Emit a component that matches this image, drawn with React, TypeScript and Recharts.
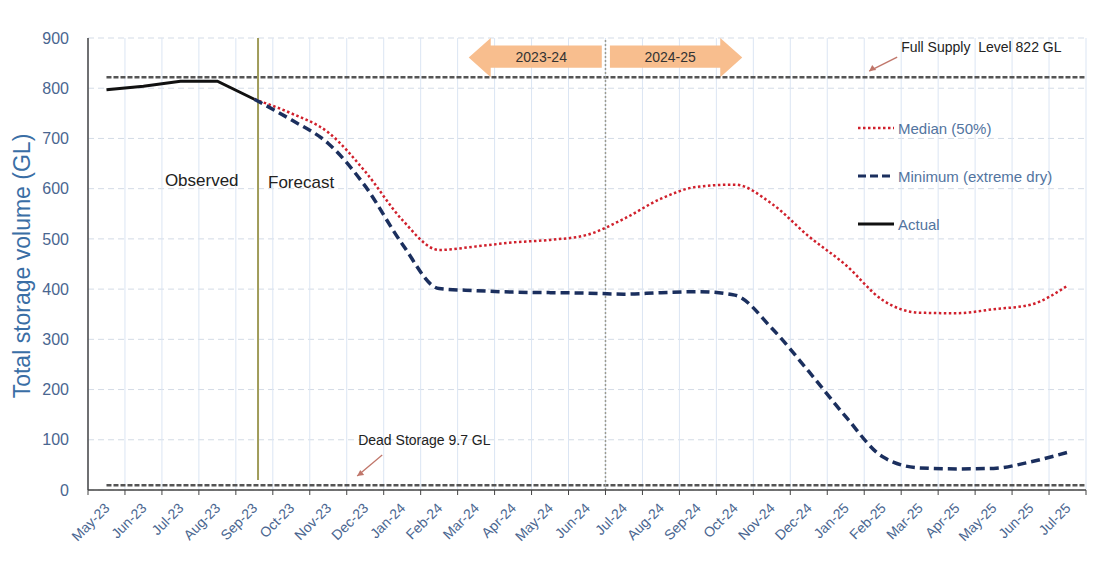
import {
  LineChart,
  Line,
  XAxis,
  YAxis,
  CartesianGrid,
  ReferenceLine,
  ReferenceArea,
  ReferenceDot,
  Legend,
} from "recharts";

const MONTHS = [
  "May-23", "Jun-23", "Jul-23", "Aug-23", "Sep-23", "Oct-23", "Nov-23",
  "Dec-23", "Jan-24", "Feb-24", "Mar-24", "Apr-24", "May-24", "Jun-24",
  "Jul-24", "Aug-24", "Sep-24", "Oct-24", "Nov-24", "Dec-24", "Jan-25",
  "Feb-25", "Mar-25", "Apr-25", "May-25", "Jun-25", "Jul-25",
];

const ACTUAL = [797, 804, 814, 814, 778];

const MEDIAN = [
  null, null, null, null, 778, 750, 712, 634, 538, 478, 485, 493, 498, 508,
  540, 580, 604, 608, 570, 505, 448, 378, 353, 352, 360, 369, 407,
];

const MINIMUM = [
  null, null, null, null, 778, 737, 690, 605, 490, 401, 397, 394, 393, 392,
  390, 393, 395, 388, 322, 236, 146, 66, 44, 42, 43, 56, 75,
];

const Y_TICKS = [0, 100, 200, 300, 400, 500, 600, 700, 800, 900];
const FULL_SUPPLY = 822;
const DEAD_STORAGE = 9.7;

const W = 1088;
const H = 554;
const MARGIN = { top: 30, right: 10, bottom: 0, left: 0 };
const Y_AXIS_W = 80;
const X_AXIS_H = 72;
const PLOT_W = W - MARGIN.left - MARGIN.right - Y_AXIS_W;
const BAND = PLOT_W / MONTHS.length;

const FONT = "'Liberation Sans', Arial, sans-serif";
const AXIS_BLUE = "#4a6690";
const RED = "#d0202c";
const NAVY = "#1b2f5e";

const data = MONTHS.map((m, i) => ({
  x: i + 0.5,
  month: m,
  actual: i < ACTUAL.length ? ACTUAL[i] : null,
  median: MEDIAN[i],
  minimum: MINIMUM[i],
}));

const X_TICKS = Array.from({ length: MONTHS.length + 1 }, (_, i) => i);

function MonthTick({ x, y, payload }: any) {
  const i = payload.value;
  if (i >= MONTHS.length) return null;
  const tx = x + BAND / 2 + 4;
  const ty = y + 12;
  return (
    <text
      x={tx}
      y={ty}
      transform={`rotate(-45 ${tx} ${ty})`}
      textAnchor="end"
      fontSize={14}
      fontFamily={FONT}
      fill={AXIS_BLUE}
    >
      {MONTHS[i]}
    </text>
  );
}

function arrowShape(dir: "left" | "right", label: string) {
  return (p: any) => {
    const { x, y, width: w, height: h } = p;
    const head = 22;
    const s1 = y + h * 0.19;
    const s2 = y + h * 0.76;
    const mid = y + h * 0.5;
    let pts: string;
    let tx: number;
    if (dir === "left") {
      pts = `${x},${mid} ${x + head},${y} ${x + head},${s1} ${x + w},${s1} ${x + w},${s2} ${x + head},${s2} ${x + head},${y + h}`;
      tx = x + head + (w - head) / 2 - 5;
    } else {
      pts = `${x + w},${mid} ${x + w - head},${y} ${x + w - head},${s1} ${x},${s1} ${x},${s2} ${x + w - head},${s2} ${x + w - head},${y + h}`;
      tx = x + (w - head) / 2 + 5;
    }
    return (
      <g>
        <polygon points={pts} fill="#f8be8e" />
        <text
          x={tx}
          y={(s1 + s2) / 2 + 5}
          textAnchor="middle"
          fontSize={14}
          fontFamily={FONT}
          fill="#333"
        >
          {label}
        </text>
      </g>
    );
  };
}

function noteShape(text: string, size: number, arrow?: [number, number, number, number]) {
  return (p: any) => {
    const { cx, cy } = p;
    return (
      <g>
        <text x={cx} y={cy} fontSize={size} fontFamily={FONT} fill="#222">
          {text}
        </text>
        {arrow && (
          <g stroke="#c0766a" strokeWidth={1.3} fill="#c0766a">
            <line x1={cx + arrow[0]} y1={cy + arrow[1]} x2={cx + arrow[2]} y2={cy + arrow[3]} />
            <polygon
              points={`${cx + arrow[2]},${cy + arrow[3]} ${cx + arrow[2] + 7},${cy + arrow[3] - 1} ${cx + arrow[2] + 3},${cy + arrow[3] - 6}`}
              stroke="none"
            />
          </g>
        )}
      </g>
    );
  };
}

const LEGEND_ITEMS = [
  { name: "Median (50%)", color: RED, dash: "2.5 2.5", width: 2.5 },
  { name: "Minimum (extreme dry)", color: NAVY, dash: "8 4", width: 3 },
  { name: "Actual", color: "#111", dash: undefined, width: 3 },
];

function renderLegend() {
  return (
    <div style={{ fontFamily: FONT }}>
      {LEGEND_ITEMS.map((it) => (
        <div
          key={it.name}
          style={{ display: "flex", alignItems: "center", height: 48 }}
        >
          <svg width={38} height={10} style={{ marginRight: 3 }}>
            <line
              x1={1}
              y1={5}
              x2={37}
              y2={5}
              stroke={it.color}
              strokeWidth={it.width}
              strokeDasharray={it.dash}
            />
          </svg>
          <span style={{ fontSize: 15, color: "#5274a0" }}>{it.name}</span>
        </div>
      ))}
    </div>
  );
}

export default function App() {
  return (
    <div style={{ width: W, height: H }}>
      <LineChart width={W} height={H} data={data} margin={MARGIN}>
        <CartesianGrid
          vertical={false}
          stroke="#d3dbe6"
          strokeDasharray="6 4"
        />
        <CartesianGrid horizontal={false} stroke="#dbe5f3" />
        <XAxis
          dataKey="x"
          type="number"
          domain={[0, MONTHS.length]}
          ticks={X_TICKS}
          interval={0}
          height={X_AXIS_H}
          tick={<MonthTick />}
          tickSize={5}
          tickMargin={2}
          tickLine={{ stroke: "#444" }}
          axisLine={{ stroke: "#444", strokeWidth: 1.5 }}
        />
        <YAxis
          type="number"
          domain={[0, 900]}
          ticks={Y_TICKS}
          interval={0}
          width={Y_AXIS_W}
          tickLine={false}
          tickMargin={13}
          axisLine={{ stroke: "#444", strokeWidth: 1.5 }}
          tick={{ fontSize: 16, fill: AXIS_BLUE, fontFamily: FONT }}
          label={{
            content: ({ viewBox }: any) => {
              const lx = viewBox.x + 14;
              const ly = viewBox.y + viewBox.height / 2 + 2;
              return (
                <text
                  x={lx}
                  y={ly}
                  transform={`rotate(-90 ${lx} ${ly})`}
                  textAnchor="middle"
                  dominantBaseline="central"
                  fontSize={23}
                  fontFamily={FONT}
                  fill="#3a6ea5"
                >
                  Total storage volume (GL)
                </text>
              );
            },
          }}
        />
        <Legend
          layout="vertical"
          align="center"
          verticalAlign="middle"
          content={renderLegend}
          wrapperStyle={{ left: 849, top: 96, width: 240 }}
        />

        <ReferenceLine
          segment={[{ x: 0.5, y: FULL_SUPPLY }, { x: MONTHS.length, y: FULL_SUPPLY }]}
          stroke="#555"
          strokeWidth={2.5}
          strokeDasharray="5 2"
        />
        <ReferenceLine
          segment={[{ x: 0.5, y: DEAD_STORAGE }, { x: MONTHS.length, y: DEAD_STORAGE }]}
          stroke="#555"
          strokeWidth={2.5}
          strokeDasharray="5 2"
        />
        <ReferenceLine
          segment={[{ x: 14, y: 0 }, { x: 14, y: 900 }]}
          stroke="#9a9a90"
          strokeWidth={1.5}
          strokeDasharray="2 2"
        />
        <ReferenceLine
          segment={[{ x: 4.6, y: 20 }, { x: 4.6, y: 900 }]}
          stroke="#a09c5a"
          strokeWidth={2}
        />

        <ReferenceArea
          x1={10.3}
          x2={13.9}
          y1={822}
          y2={900}
          ifOverflow="visible"
          shape={arrowShape("left", "2023-24")}
        />
        <ReferenceArea
          x1={14.12}
          x2={17.7}
          y1={822}
          y2={900}
          ifOverflow="visible"
          shape={arrowShape("right", "2024-25")}
        />

        <ReferenceDot x={2.08} y={605} r={0} shape={noteShape("Observed", 17)} />
        <ReferenceDot x={4.87} y={601} r={0} shape={noteShape("Forecast", 17)} />
        <ReferenceDot
          x={22.0}
          y={872}
          r={0}
          ifOverflow="visible"
          shape={noteShape("Full Supply\u00a0 Level 822 GL", 14, [-4, 5, -32, 19])}
        />
        <ReferenceDot
          x={7.31}
          y={89.6}
          r={0}
          shape={noteShape("Dead Storage 9.7 GL", 14, [24, 10, -1, 31])}
        />

        <Line
          dataKey="median"
          type="monotone"
          stroke={RED}
          strokeWidth={2.5}
          strokeDasharray="2.5 2.5"
          dot={false}
          isAnimationActive={false}
        />
        <Line
          dataKey="minimum"
          type="monotone"
          stroke={NAVY}
          strokeWidth={3.5}
          strokeDasharray="9 5"
          dot={false}
          isAnimationActive={false}
        />
        <Line
          dataKey="actual"
          type="linear"
          stroke="#111"
          strokeWidth={3}
          dot={false}
          isAnimationActive={false}
        />
      </LineChart>
    </div>
  );
}
